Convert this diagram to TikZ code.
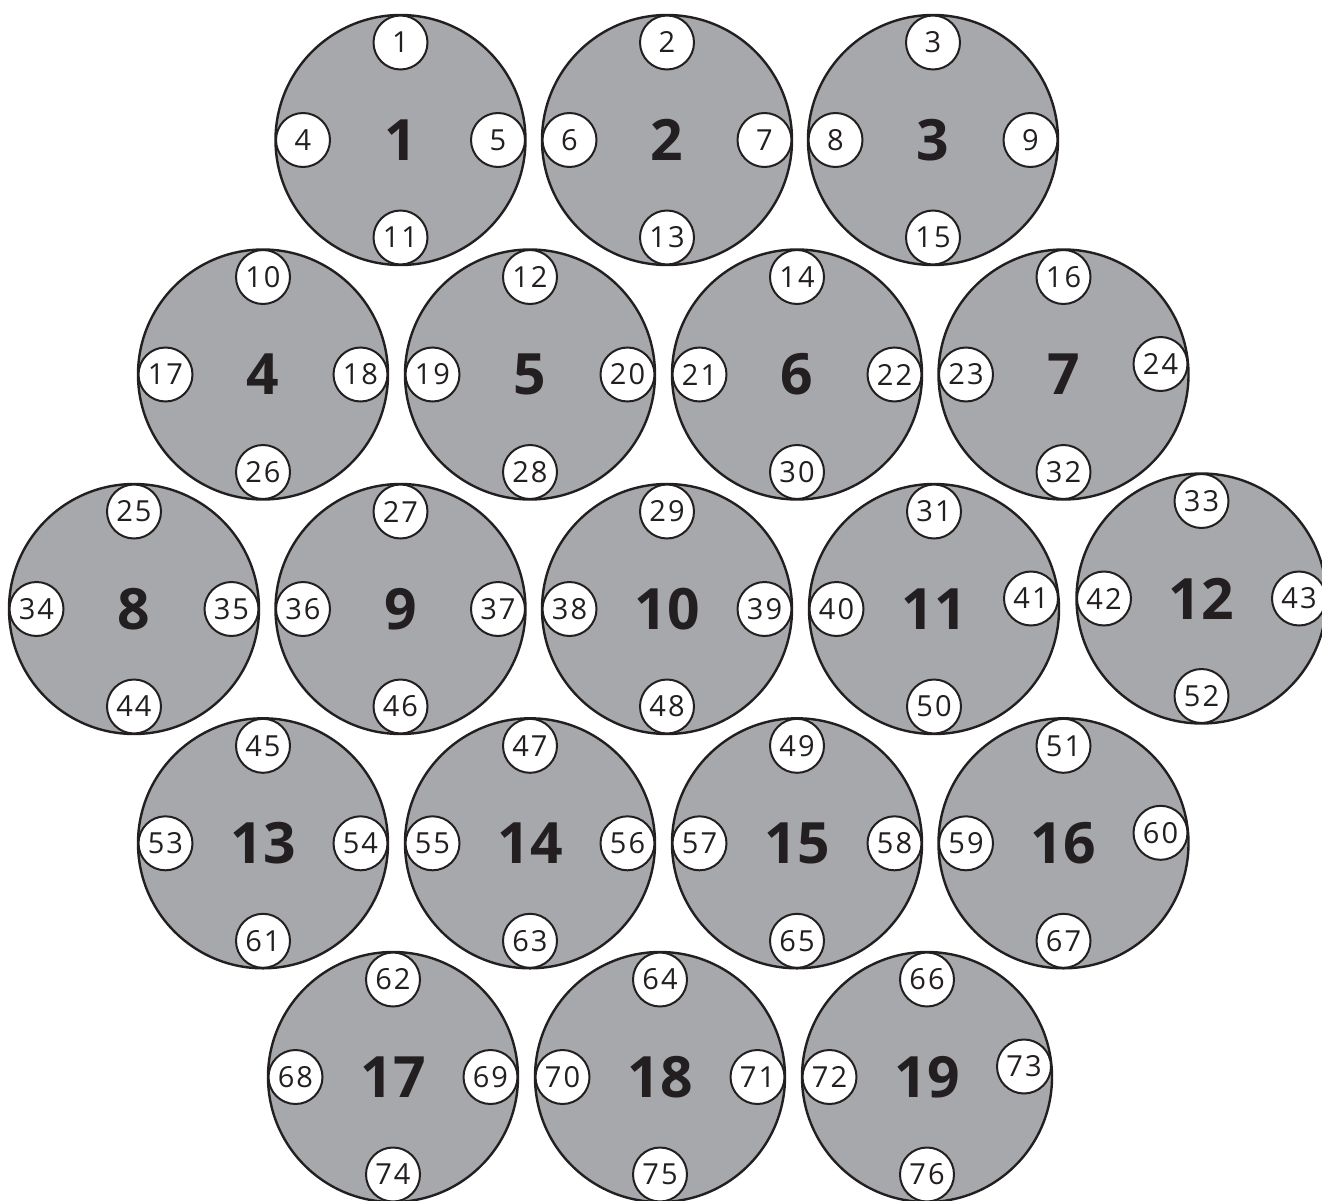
\documentclass[tikz,border=0pt]{standalone}
\usepackage{fontspec}
\setmainfont{Open Sans}
\newfontfamily\pinfont[LetterSpace=7]{Open Sans}
\usetikzlibrary{calc}
\definecolor{cellgray}{RGB}{167,168,171}
\definecolor{ink}{RGB}{35,31,32}
\tikzset{
  bigcell/.style={circle, draw=ink, line width=2.4pt, fill=cellgray, minimum size=250pt, inner sep=0pt,
    text=ink, font=\fontsize{57}{60}\selectfont\bfseries},
  pin/.style={circle, draw=ink, line width=2pt, fill=white, minimum size=54pt, inner sep=0pt,
    text=ink, font=\pinfont\fontsize{29}{31}\selectfont}
}
% #1 cell number, #2 x, #3 y, #4 top, #5 left, #6 right, #7 bottom, #8 right offset
\newcommand\mycell[8]{%
  \node[bigcell] (b#1) at (#2,#3) {#1};
  \node[pin] (s#4) at ($(b#1)+(0,-97.5)$) {#4};
  \node[pin] (s#5) at ($(b#1)+(-97.5,0)$) {#5};
  \node[pin] (s#6) at ($(b#1)+#8$) {#6};
  \node[pin] (s#7) at ($(b#1)+(0,97.5)$) {#7};
}
\begin{document}
\begin{tikzpicture}[x=1pt,y=-1pt]
\useasboundingbox (0,0) rectangle (1322,1201);
% row 1
\mycell{1}{400.5}{140}{1}{4}{5}{11}{(97.5,0)}
\mycell{2}{667}{140}{2}{6}{7}{13}{(97.5,0)}
\mycell{3}{933}{140}{3}{8}{9}{15}{(97.5,0)}
% row 2
\mycell{4}{263}{374.5}{10}{17}{18}{26}{(97.5,0)}
\mycell{5}{530}{374.5}{12}{19}{20}{28}{(97.5,0)}
\mycell{6}{797}{374.5}{14}{21}{22}{30}{(97.5,0)}
\mycell{7}{1063.5}{374.5}{16}{23}{24}{32}{(97,-10.5)}
% row 3
\mycell{8}{134}{609}{25}{34}{35}{44}{(97.5,0)}
\mycell{9}{400.5}{609}{27}{36}{37}{46}{(97.5,0)}
\mycell{10}{667}{609}{29}{38}{39}{48}{(97.5,0)}
\mycell{11}{934}{609}{31}{40}{41}{50}{(97,-10.5)}
\mycell{12}{1201.5}{598.5}{33}{42}{43}{52}{(97.5,0)}
% row 4
\mycell{13}{263}{843.3}{45}{53}{54}{61}{(97.5,0)}
\mycell{14}{530}{843.3}{47}{55}{56}{63}{(97.5,0)}
\mycell{15}{797}{843.3}{49}{57}{58}{65}{(97.5,0)}
\mycell{16}{1063.5}{843.3}{51}{59}{60}{67}{(97,-10.5)}
% row 5
\mycell{17}{393}{1077}{62}{68}{69}{74}{(97.5,0)}
\mycell{18}{660}{1077}{64}{70}{71}{75}{(97.5,0)}
\mycell{19}{927}{1077}{66}{72}{73}{76}{(97,-10.5)}
\end{tikzpicture}
\end{document}
